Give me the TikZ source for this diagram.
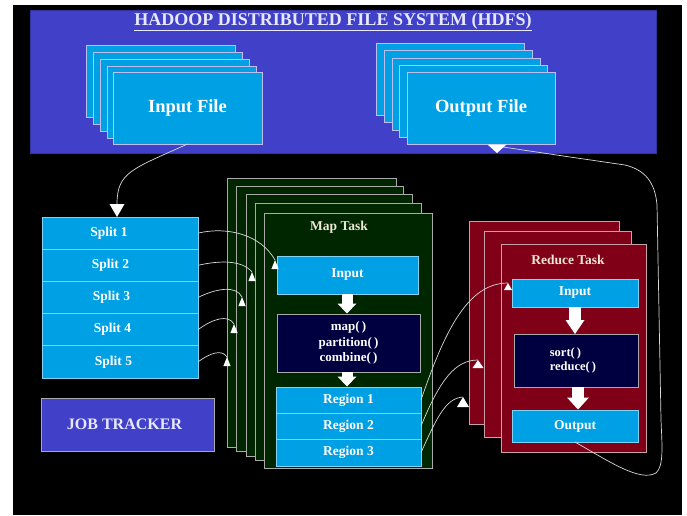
\documentclass[tikz,border=0pt]{standalone}
\usepackage{fontspec}
\setmainfont{Liberation Serif}
\usetikzlibrary{arrows.meta,calc}
\definecolor{hdfsblue}{RGB}{64,64,200}
\definecolor{filecyan}{RGB}{0,160,228}
\definecolor{fileedge}{RGB}{190,190,240}
\definecolor{splitedge}{RGB}{130,210,245}
\definecolor{mapgreen}{RGB}{0,38,0}
\definecolor{navybox}{RGB}{0,0,64}
\definecolor{redtask}{RGB}{128,0,24}
\definecolor{rededge}{RGB}{200,160,165}
\definecolor{grayedge}{RGB}{170,170,170}
\definecolor{lav}{RGB}{232,232,255}
\definecolor{cream}{RGB}{240,232,214}
\begin{document}
\begin{tikzpicture}[x=1pt,y=-1pt,
  every node/.style={inner sep=0pt, outer sep=0pt},
  filebox/.style={draw=fileedge, fill=filecyan, line width=0.8pt, anchor=north west, minimum width=149pt, minimum height=72pt, text=white, font=\bfseries\fontsize{18.5}{21}\selectfont},
  splitbox/.style={draw=splitedge, fill=filecyan, line width=0.8pt, minimum width=156pt, minimum height=32.2pt, text=white, font=\bfseries\fontsize{13.5}{15}\selectfont},
  mapbox/.style={draw=grayedge, fill=mapgreen, line width=0.8pt, anchor=north west},
  redbox/.style={draw=rededge, fill=redtask, line width=0.8pt, anchor=north west},
  cyanbox/.style={draw=splitedge, fill=filecyan, line width=0.8pt, text=white, font=\bfseries\fontsize{13.5}{15}\selectfont},
  funbox/.style={draw=grayedge, fill=navybox, line width=0.8pt, text=white, font=\bfseries\fontsize{13}{15.5}\selectfont},
  conn/.style={draw=white!85!black, line width=0.7pt},
  blockarr/.style={draw=white, line width=11pt},
]
\useasboundingbox (0,0) rectangle (687,515);
\fill[white] (0,0) rectangle (687,515);
\fill[black] (13,5) rectangle (682,515);

% HDFS panel
\node[draw=hdfsblue!80!black, fill=hdfsblue, line width=0.8pt, anchor=north west, minimum width=626pt, minimum height=143pt] (hdfs) at (30,10) {};
\node[text=lav, font=\bfseries\fontsize{18}{20}\selectfont] (title) at (333,22) {\underline{HADOOP DISTRIBUTED FILE SYSTEM (HDFS)}};

% input file stack
\foreach \i/\x/\y in {0/86/45,1/93/52,2/100/59,3/107/66}
  \node[filebox] (inb\i) at (\x,\y) {};
\node[filebox] (infile) at (113,72) {Input File};

% output file stack
\foreach \i/\x/\y in {0/376/43,1/384/50,2/392/58,3/399/65}
  \node[filebox, minimum width=148pt] (outb\i) at (\x,\y) {};
\node[filebox, minimum width=148pt] (outfile) at (407,72) {Output File};

% splits
\foreach \i/\y/\s in {1/233.1/22,2/265.3/19,3/297.5/17,4/329.7/15,5/361.9/13}
  \node[splitbox] (s\i) at (120,\y) {Split \i\hspace*{\s pt}};

% job tracker
\node[draw=grayedge, fill=hdfsblue, line width=0.8pt, anchor=north west, minimum width=173pt, minimum height=53pt, text=lav, font=\bfseries\fontsize{16}{18}\selectfont] (job) at (41,398) {JOB TRACKER\hspace*{6pt}};

% map task stack
\node[mapbox, minimum width=169pt, minimum height=269pt] (m0) at (227,178) {};
\node[mapbox, minimum width=167pt, minimum height=265pt] (m1) at (236,186) {};
\node[mapbox, minimum width=166pt, minimum height=262pt] (m2) at (246,194) {};
\node[mapbox, minimum width=166pt, minimum height=257pt] (m3) at (255,203) {};
\node[mapbox, minimum width=168pt, minimum height=255pt] (m4) at (264,213) {};
\node[text=cream, font=\bfseries\fontsize{13.5}{15}\selectfont] (maptitle) at (339,227) {Map Task};
\node[cyanbox, minimum width=141pt, minimum height=38pt] (min) at (347.5,275) {Input};
\node[funbox, minimum width=143pt, minimum height=58pt, align=center] (mfun) at (348.5,343) {map(\,)\\partition(\,)\\combine(\,)};
\node[cyanbox, minimum width=145pt, minimum height=26pt] (reg1) at (348.5,400) {Region 1};
\node[cyanbox, minimum width=145pt, minimum height=26pt] (reg2) at (348.5,426) {Region 2};
\node[cyanbox, minimum width=145pt, minimum height=27pt] (reg3) at (348.5,452.5) {Region 3};

% reduce task stack
\node[redbox, minimum width=150pt, minimum height=203pt] (r0) at (469,221) {};
\node[redbox, minimum width=147pt, minimum height=206pt] (r1) at (484,231) {};
\node[redbox, minimum width=145pt, minimum height=208pt] (r2) at (501,244) {};
\node[text=cream, font=\bfseries\fontsize{13.5}{15}\selectfont] (redtitle) at (568,260) {Reduce Task};
\node[cyanbox, minimum width=126pt, minimum height=28pt] (rin) at (575,293) {Input};
\node[funbox, minimum width=124pt, minimum height=53pt, align=left, font=\bfseries\fontsize{12.5}{14}\selectfont] (rfun) at (576,360.5) {sort(\,)\\reduce(\,)\hspace*{6pt}};
\node[cyanbox, minimum width=126pt, minimum height=32pt] (rout) at (575,426) {Output};

% block arrows
\draw[blockarr, -{Triangle[width=19pt,length=10pt,line width=0pt]}] (347,294) -- (347,313.5);
\draw[blockarr, -{Triangle[width=19pt,length=10pt,line width=0pt]}] (347,372) -- (347,386.5);
\draw[blockarr, line width=12pt, -{Triangle[width=19pt,length=14pt,line width=0pt]}] (rin.south) -- (rin.south |- rfun.north);
\draw[blockarr, line width=12pt, -{Triangle[width=22pt,length=12pt,line width=0pt]}] (578,387) -- (578,409.5);

% input file -> split 1
\draw[conn, -{Triangle[width=15pt,length=13pt,line width=0pt,fill=white]}] (infile.south) .. controls +(-55,25) and +(0,-45) .. ($(s1.north)+(-3,0)$);

% splits -> map tasks
\coordinate (t1) at (275,260);
\coordinate (t2) at (252,272);
\coordinate (t3) at (242,297);
\coordinate (t4) at (234,324);
\coordinate (t5) at (227,357);
\draw[conn] (s1.east) .. controls +(30,-7) and +(-14,-25) .. (t1);
\draw[conn] (s2.east) .. controls +(22,-5) and +(-10,-12) .. (t2);
\draw[conn] (s3.east) .. controls +(18,-9) and +(-6,-12) .. (t3);
\draw[conn] (s4.east) .. controls +(15,-11) and +(-6,-10) .. (t4);
\draw[conn] (s5.east) .. controls +(12,-9) and +(-5,-8) .. (t5);
\foreach \t in {t1,t2,t3,t4,t5}
  \fill[white] (\t) -- ++(-3.6,9) -- ++(7.2,0) -- cycle;

% regions -> reduce tasks
\coordinate (u1) at (508,283);
\coordinate (u2) at (478,360);
\coordinate (u3) at (463,397);
\draw[conn] (reg1.east) .. controls (445,330) and (468,283) .. (u1);
\draw[conn] (reg2.east) .. controls (440,380) and (455,360) .. (u2);
\draw[conn] (reg3.east) .. controls (436,420) and (445,398) .. (u3);
\fill[white] (u1) -- ++(-4,7) -- ++(8,0) -- cycle;
\fill[white] (u2) -- ++(-5.5,8) -- ++(11,0) -- cycle;
\fill[white] (u3) -- ++(-6,10) -- ++(12,0) -- cycle;

% reduce output -> output file
\coordinate (oarr) at ($(outfile.south)+(16,0)$);
\draw[conn] (rout.south) .. controls (610,462) and (640,482) .. (656,473)
  .. controls (664,466) and (662,445) .. (661,420)
  -- (657,205) .. controls (655,182) and (645,170) .. (625,165)
  -- (570,157) -- ($(oarr)+(6,3)$);
\fill[white] ($(oarr)+(-9.5,0.5)$) -- ($(oarr)+(9.5,0.5)$) -- ($(oarr)+(0,9)$) -- cycle;
\end{tikzpicture}
\end{document}
